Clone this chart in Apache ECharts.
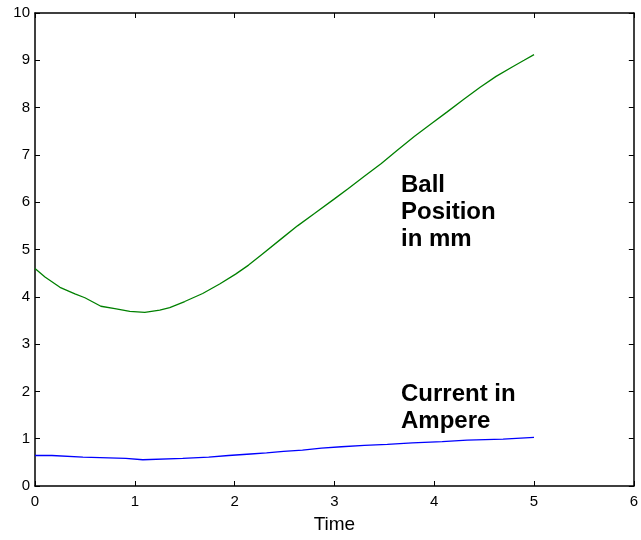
<!DOCTYPE html>
<html>
<head>
<meta charset="utf-8">
<script src="https://cdn.jsdelivr.net/npm/echarts@6/dist/echarts.min.js"></script>
<style>
  html, body { margin: 0; padding: 0; background: #fff; }
  #chart { width: 641px; height: 540px; }
</style>
</head>
<body>
<div id="chart"></div>
<script>
// ball position (mm), [time, value]
const ballPosition = [
  [0, 4.60], [0.1, 4.42], [0.25, 4.20], [0.4, 4.06], [0.5, 3.98], [0.66, 3.80],
  [0.8, 3.75], [0.95, 3.69], [1.1, 3.67], [1.25, 3.72], [1.35, 3.77],
  [1.5, 3.90], [1.68, 4.07], [1.85, 4.27], [2.01, 4.48], [2.14, 4.67],
  [2.27, 4.89], [2.47, 5.23], [2.63, 5.50], [2.80, 5.76], [3.0, 6.07],
  [3.14, 6.29], [3.3, 6.55], [3.47, 6.82], [3.63, 7.10], [3.80, 7.39],
  [3.97, 7.66], [4.13, 7.91], [4.3, 8.18], [4.46, 8.43], [4.62, 8.66],
  [4.79, 8.87], [4.9, 9.00], [5.0, 9.12]
]

// current (A), stepped: value holds from that time on
const currentAmp = [
  [0, 0.645], [0.17, 0.61], [0.48, 0.585], [0.91, 0.555], [1.08, 0.585],
  [1.48, 0.61], [1.74, 0.645], [1.94, 0.677], [2.16, 0.70], [2.32, 0.73],
  [2.49, 0.76], [2.68, 0.80], [2.87, 0.83], [3.07, 0.86], [3.30, 0.88],
  [3.53, 0.91], [3.78, 0.94], [4.08, 0.97], [4.33, 0.99], [4.69, 1.03],
  [5.0, 1.03]
]

const xTicks = [0, 1, 2, 3, 4, 5, 6]
const yTicks = [0, 1, 2, 3, 4, 5, 6, 7, 8, 9, 10]

const chart = echarts.init(document.getElementById('chart'))

const axisLine = { show: true, onZero: false, lineStyle: { color: '#000', width: 1.5 } }
const axisTick = { show: true, inside: true, length: 5, lineStyle: { color: '#000', width: 1 } }
const labelFont = { color: '#000', fontSize: 15, fontFamily: 'Liberation Sans, Arial, sans-serif' }

chart.setOption({
  backgroundColor: '#fff',
  animation: false,
  grid: { left: 35, right: 4, top: 13, bottom: 54 },
  xAxis: [{
    type: 'value',
    min: xTicks[0],
    max: xTicks[xTicks.length - 1],
    interval: 1,
    name: 'Time',
    nameLocation: 'middle',
    nameGap: 29,
    nameTextStyle: { color: '#000', fontSize: 19, fontFamily: 'Liberation Sans, Arial, sans-serif' },
    axisLine: axisLine,
    axisTick: axisTick,
    axisLabel: Object.assign({ margin: 8 }, labelFont),
    splitLine: { show: false }
  }, {
    type: 'value',
    position: 'top',
    min: xTicks[0],
    max: xTicks[xTicks.length - 1],
    interval: 1,
    axisLine: axisLine,
    axisTick: axisTick,
    axisLabel: { show: false },
    splitLine: { show: false }
  }],
  yAxis: [{
    type: 'value',
    min: yTicks[0],
    max: yTicks[yTicks.length - 1],
    interval: 1,
    axisLine: axisLine,
    axisTick: axisTick,
    axisLabel: Object.assign({ margin: 5 }, labelFont),
    splitLine: { show: false }
  }, {
    type: 'value',
    position: 'right',
    min: yTicks[0],
    max: yTicks[yTicks.length - 1],
    interval: 1,
    axisLine: axisLine,
    axisTick: axisTick,
    axisLabel: { show: false },
    splitLine: { show: false }
  }],
  series: [{
    name: 'Ball Position in mm',
    type: 'line',
    showSymbol: false,
    lineStyle: { color: '#008000', width: 1.3 },
    data: ballPosition
  }, {
    name: 'Current in Ampere',
    type: 'line',
    step: 'end',
    showSymbol: false,
    lineStyle: { color: '#0000ff', width: 1.3 },
    data: currentAmp
  }],
  graphic: [{
    type: 'text',
    left: 401,
    top: 172,
    style: {
      text: 'Ball\nPosition\nin mm',
      font: 'bold 24px "Liberation Sans", Arial, sans-serif',
      lineHeight: 27,
      fill: '#000'
    }
  }, {
    type: 'text',
    left: 401,
    top: 381,
    style: {
      text: 'Current in\nAmpere',
      font: 'bold 24px "Liberation Sans", Arial, sans-serif',
      lineHeight: 27,
      fill: '#000'
    }
  }]
})
</script>
</body>
</html>
